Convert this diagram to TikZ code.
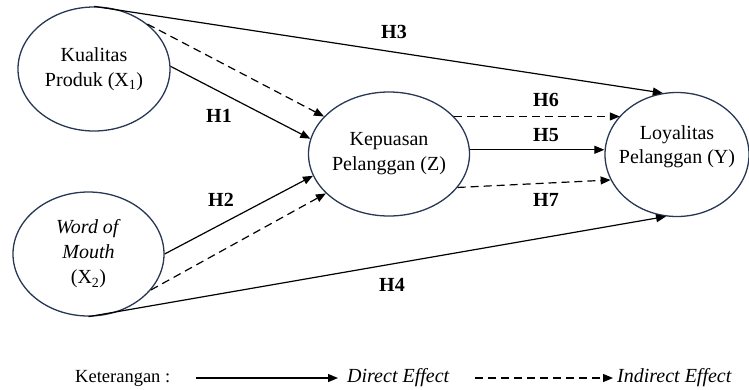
\documentclass[tikz,border=0pt]{standalone}
\usepackage{fontspec}
\setmainfont{Liberation Serif}
\usetikzlibrary{arrows.meta,shapes.geometric}
\definecolor{ellc}{RGB}{40,55,85}
\begin{document}
\begin{tikzpicture}[x=1pt,y=-1pt,
  var/.style={ellipse,draw=ellc,line width=1.3pt,inner sep=0pt,align=center,font=\fontsize{20}{25}\selectfont},
  conn/.style={line width=1.2pt,-{Triangle[length=10pt,width=8pt]}},
  dsh/.style={conn,dash pattern=on 8pt off 5pt},
  hlab/.style={font=\fontsize{20}{24}\selectfont\bfseries,inner sep=0pt},
  legtxt/.style={font=\fontsize{20}{24}\selectfont,inner sep=0pt}]
\useasboundingbox (0,0) rectangle (749,389);
% variables
\node[var,minimum width=152pt,minimum height=124pt] (x1) at (94,69) {Kualitas\\Produk (X\textsubscript{1})};
\node[var,minimum width=151pt,minimum height=124pt] (x2) at (88.5,254) {\textit{Word of}\\\textit{Mouth}\\(X\textsubscript{2})};
\node[var,minimum width=152pt,minimum height=124pt] (z) at (389,154) {Kepuasan\\Pelanggan (Z)};
\node[var,minimum width=144pt,minimum height=124pt,
  label={[align=center,font=\fontsize{20}{24}\selectfont,yshift=8pt]center:Loyalitas\\Pelanggan (Y)}] (y) at (677,154.5) {};
% connectors
\draw[conn] (x1.north) -- (y.103);
\draw[dsh] (x1.40) -- (z.150);
\draw[conn] (x1.2) -- (z.169);
\draw[conn] (x2.east) -- (z.196);
\draw[dsh] (x2.-30) -- (z.212);
\draw[conn] (x2.south) -- (y.260);
\draw[dsh] (z.30) -- (z.30 -| y.146);
\draw[conn] (z.3) -- (z.3 -| y.west);
\draw[dsh] (z.-26) -- (y.201);
% labels
\node[hlab] (h3) at (394,32) {H3};
\node[hlab] (h1) at (219,116) {H1};
\node[hlab] (h2) at (221,200) {H2};
\node[hlab] (h6) at (546,100) {H6};
\node[hlab] (h5) at (546,135) {H5};
\node[hlab] (h7) at (546,200) {H7};
\node[hlab] (h4) at (392,285) {H4};
% legend
\node[legtxt,font=\fontsize{18.5}{22}\selectfont,anchor=base west] (ket) at (75,382) {Keterangan :};
\coordinate (d1) at (196,378);
\coordinate (d2) at (338,378);
\node[legtxt,anchor=base west] (dir) at (347,382) {\textit{Direct Effect}};
\coordinate (i1) at (475,378);
\coordinate (i2) at (613,378);
\node[legtxt,anchor=base west] (ind) at (617,382) {\textit{Indirect Effect}};
\draw[conn] (d1) -- (d2);
\draw[dsh] (i1) -- (i2);
\end{tikzpicture}
\end{document}
